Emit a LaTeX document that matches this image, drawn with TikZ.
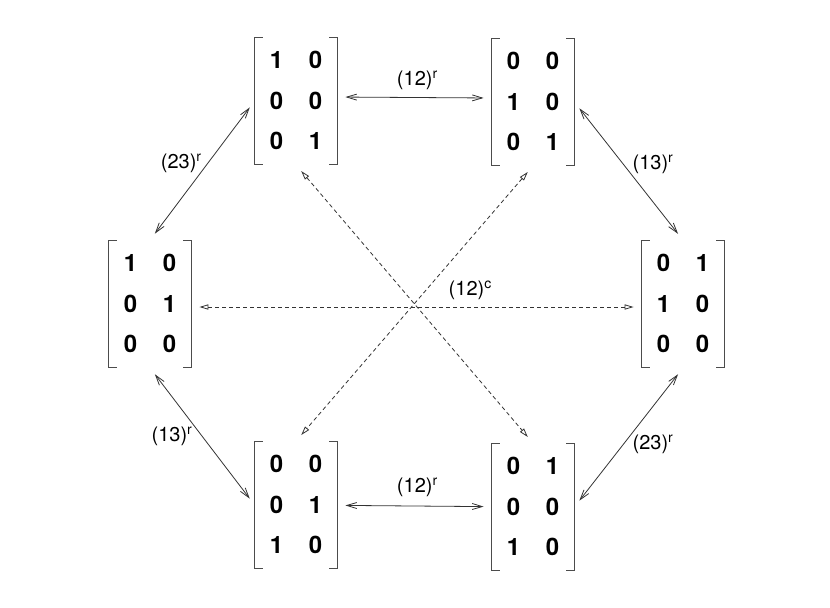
\documentclass[tikz,border=0pt]{standalone}
\usepackage{fontspec}
\setmainfont{TeX Gyre Heros}
\usetikzlibrary{arrows.meta}

\newcommand{\mtx}[6]{%
  \def\arraystretch{1.45}%
  \begin{tabular}{@{}c@{\hspace{12.8pt}}c@{}}#1 & #2\\ #3 & #4\\ #5 & #6\end{tabular}}

\tikzset{
  mat/.style={inner sep=0pt, minimum width=41pt, minimum height=63.5pt, font=\fontsize{12}{14}\selectfont\bfseries},
  brk/.style={draw=black!70, line width=0.5pt},
  rswap/.style={{Straight Barb[length=5pt,width=3pt]}-{Straight Barb[length=5pt,width=3pt]}, draw=black!80, line width=0.4pt, shorten <=4pt, shorten >=4pt},
  cswap/.style={{Triangle[open,length=4.5pt,width=2.6pt]}-{Triangle[open,length=4.5pt,width=2.6pt]}, draw=black!80, line width=0.4pt, dash pattern=on 2pt off 1.5pt, shorten <=4pt, shorten >=4pt},
  lbl/.style={font=\fontsize{10}{11}\selectfont, inner sep=1.5pt}
}

\begin{document}
\begin{tikzpicture}[x=0.5pt, y=-0.5pt]
  \useasboundingbox (0,0) rectangle (830,607);

  % the six matrices
  \node[mat] (tl) at (296,101) {\mtx{1}{0}{0}{0}{0}{1}};
  \node[mat] (tr) at (533,102) {\mtx{0}{0}{1}{0}{0}{1}};
  \node[mat] (l)  at (150,304) {\mtx{1}{0}{0}{1}{0}{0}};
  \node[mat] (r)  at (683,304) {\mtx{0}{1}{1}{0}{0}{0}};
  \node[mat] (bl) at (296,505) {\mtx{0}{0}{0}{1}{1}{0}};
  \node[mat] (br) at (533,507) {\mtx{0}{1}{0}{0}{1}{0}};

  % brackets
  \foreach \n in {tl,tr,l,r,bl,br} {
    \draw[brk] ([xshift=4pt]\n.north west) -| (\n.south west) -- ++(4pt,0);
    \draw[brk] ([xshift=-4pt]\n.north east) -| (\n.south east) -- ++(-4pt,0);
  }

  % row swaps
  \draw[rswap] ([yshift=2pt]tl.east) -- node[lbl, pos=0.52, above=2pt] {(12)\textsuperscript{r}} ([yshift=2pt]tr.west);
  \draw[rswap] (bl) -- node[lbl, pos=0.52, above=3pt] {(12)\textsuperscript{r}} (br);
  \draw[rswap] (tl.west) -- node[lbl, pos=0.45, left=1pt] {(23)\textsuperscript{r}} (l.north);
  \draw[rswap] (l.south) -- node[lbl, pos=0.5, left=3pt] {(13)\textsuperscript{r}} (bl.west);
  \draw[rswap] (tr.east) -- node[lbl, pos=0.45, right=3pt] {(13)\textsuperscript{r}} (r.north);
  \draw[rswap] (r.south) -- node[lbl, pos=0.55, right=3pt] {(23)\textsuperscript{r}} (br.east);

  % column swap
  \draw[cswap] ([yshift=-1.5pt]l.east) -- node[lbl, pos=0.62, above=2pt] {(12)\textsuperscript{c}} ([yshift=-1.5pt]r.west);
  \draw[cswap] (tl.south) -- (br.north);
  \draw[cswap] (tr.south) -- (bl.north);
\end{tikzpicture}
\end{document}
